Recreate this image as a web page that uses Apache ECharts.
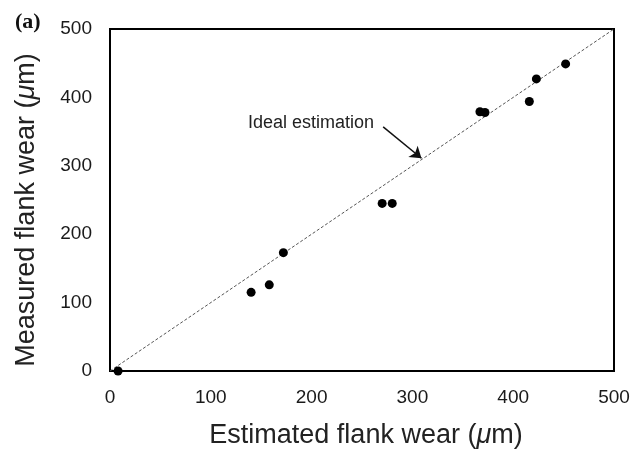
<!DOCTYPE html>
<html><head><meta charset="utf-8">
<script src="https://cdn.jsdelivr.net/npm/echarts@6/dist/echarts.min.js"></script>
<style>html,body{margin:0;padding:0;background:#fff}#c{width:644px;height:454px}</style>
</head><body><div id="c"></div>
<script>
const estimated = [8, 140, 158, 172, 270, 280, 367, 372, 416, 423, 452];
const measured  = [0, 115, 126, 173, 245, 245, 379, 378, 394, 427, 449];
const idealLine = [[0, 0], [500, 500]];
const axisTicks = [0, 100, 200, 300, 400, 500];
const annotationText = 'Ideal estimation';
const arrowFrom = [271, 357];
const arrowTo = [309, 311];

const chart = echarts.init(document.getElementById('c'));
const font = 'Liberation Sans, Arial, sans-serif';
const titleRich = {a: {fontSize: 27, color: '#222', fontFamily: font}, i: {fontSize: 27, color: '#222', fontFamily: font, fontStyle: 'italic'}};
chart.setOption({
  animation: false,
  grid: {left: 110, right: 30, top: 29, bottom: 83, show: true, borderColor: '#000', borderWidth: 2},
  xAxis: {
    type: 'value', min: axisTicks[0], max: axisTicks[axisTicks.length-1], interval: 100,
    axisLine: {show: false}, axisTick: {show: false}, splitLine: {show: false},
    axisLabel: {fontSize: 19, color: '#1a1a1a', fontFamily: font, margin: 17},
    name: '{a|Estimated flank wear (}{i|μ}{a|m)}', nameLocation: 'middle', nameGap: 51,
    nameTextStyle: {rich: titleRich, padding: [0, 0, 0, 8]}
  },
  yAxis: {
    type: 'value', min: axisTicks[0], max: axisTicks[axisTicks.length-1], interval: 100,
    axisLine: {show: false}, axisTick: {show: false}, splitLine: {show: false},
    axisLabel: {fontSize: 19, color: '#1a1a1a', fontFamily: font, margin: 18},
    name: '{a|Measured flank wear (}{i|μ}{a|m)}', nameLocation: 'middle', nameGap: 70, nameRotate: 90,
    nameTextStyle: {rich: titleRich, padding: [0, 20, 0, 0]}
  },
  series: [
    {type: 'line', data: idealLine, symbol: 'none', silent: true, z: 1,
     lineStyle: {color: '#555', width: 1, type: [3, 2]},
     markLine: {silent: true, symbol: ['none', 'arrow'], symbolSize: 11,
       lineStyle: {color: '#111', width: 1.5, type: 'solid'}, label: {show: false},
       data: [[{coord: arrowFrom}, {coord: arrowTo}]]}},
    {type: 'scatter', data: estimated.map((x, i) => [x, measured[i]]), symbolSize: 9, z: 3,
     itemStyle: {color: '#000', opacity: 1}}
  ],
  graphic: [
    {type: 'text', left: 15, top: 11, style: {text: '(a)', font: 'bold 22px "Liberation Serif", "Times New Roman", serif', fill: '#111'}},
    {type: 'text', left: 248, top: 114, style: {text: annotationText, font: '18px ' + font, fill: '#222'}}
  ]
});
</script></body></html>
